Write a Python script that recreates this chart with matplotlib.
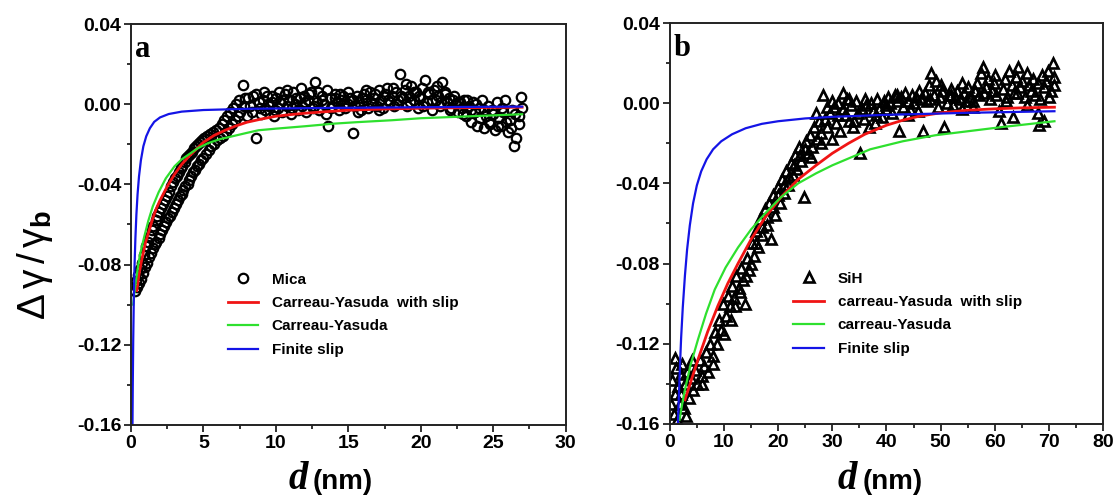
import matplotlib
matplotlib.use('Agg')
import matplotlib.pyplot as plt
from matplotlib.ticker import MultipleLocator

plt.rcParams['font.family'] = ['Liberation Sans', 'DejaVu Sans']
plt.rcParams['mathtext.fontset'] = 'custom'
plt.rcParams['mathtext.rm'] = 'Liberation Sans'
plt.rcParams['mathtext.it'] = 'Liberation Sans:italic'
plt.rcParams['mathtext.bf'] = 'Liberation Sans:bold'

# ---- panel a : mica surface ----
mica_d = [0.30, 0.35, 0.42, 0.50, 0.55, 0.62, 0.70, 0.75, 0.82, 0.90,
          0.95, 1.02, 1.10, 1.15, 1.22, 1.30, 1.35, 1.42, 1.50, 1.55,
          1.62, 1.70, 1.75, 1.82, 1.90, 1.95, 2.02, 2.10, 2.15, 2.22,
          2.30, 2.35, 2.42, 2.50, 2.55, 2.62, 2.70, 2.75, 2.82, 2.90,
          2.95, 3.02, 3.10, 3.15, 3.22, 3.30, 3.35, 3.42, 3.50, 3.55,
          3.62, 3.70, 3.75, 3.82, 3.90, 3.95, 4.02, 4.10, 4.15, 4.22,
          4.30, 4.35, 4.42, 4.50, 4.55, 4.62, 4.70, 4.75, 4.82, 4.90,
          4.95, 5.05, 5.15, 5.25, 5.35, 5.45, 5.55, 5.65, 5.75, 5.85,
          5.95, 6.05, 6.15, 6.25, 6.35, 6.45, 6.55, 6.65, 6.75, 6.85,
          6.95, 7.05, 7.15, 7.25, 7.35, 7.45, 7.55, 7.70, 7.80, 7.90,
          8.00, 8.20, 8.40, 8.60, 8.80, 9.00, 9.10, 9.25, 9.40, 9.55,
          9.70, 9.85, 10.0, 10.15, 10.3, 10.45, 10.6, 10.75, 10.9, 11.05,
          11.2, 11.35, 11.5, 11.65, 11.8, 11.95, 12.1, 12.25, 12.4, 12.55,
          12.7, 12.85, 13.0, 13.15, 13.3, 13.45, 13.6, 13.75, 13.9, 14.05,
          14.2, 14.35, 14.5, 14.65, 14.8, 14.95, 15.1, 15.3, 15.45, 15.6,
          15.75, 15.9, 16.05, 16.2, 16.35, 16.5, 16.65, 16.8, 16.95, 17.1,
          17.25, 17.4, 17.55, 17.7, 17.85, 18.0, 18.15, 18.3, 18.45, 18.6,
          18.75, 18.9, 19.05, 19.2, 19.35, 19.5, 19.65, 19.8, 19.95, 20.1,
          20.3, 20.45, 20.6, 20.75, 20.9, 21.05, 21.2, 21.35, 21.5, 21.65,
          21.8, 21.95, 22.1, 22.25, 22.4, 22.55, 22.7, 22.85, 23.0, 23.15,
          23.3, 23.45, 23.6, 23.75, 23.9, 24.05, 24.2, 24.35, 24.5, 24.65,
          24.8, 24.95, 25.1, 25.25, 25.4, 25.55, 25.7, 25.85, 26.0, 26.15,
          26.3, 26.45, 26.6, 26.75, 26.9, 27.0,
          8.10, 8.35, 8.65, 8.90, 9.15, 9.45, 9.70, 9.95, 10.2, 10.5,
          10.8, 11.1, 11.4, 11.7, 12.0, 12.3, 12.6, 12.9, 13.2, 13.5,
          13.8, 14.1, 14.4, 14.7, 15.0, 15.35, 15.65, 15.95, 16.25, 16.55,
          16.85, 17.15, 17.45, 17.75, 18.05, 18.35, 18.65, 18.95, 19.25, 19.55,
          19.85, 20.15, 20.5, 20.8, 21.1, 21.4, 21.7, 22.0, 22.3, 22.6,
          22.9, 23.2, 23.5, 23.8, 24.1, 24.4, 24.7, 25.0, 25.3, 25.6,
          25.9, 26.2, 26.5, 26.8]
mica_dg = [-0.093, -0.088, -0.091, -0.085, -0.089, -0.082, -0.087, -0.079, -0.084, -0.075,
           -0.081, -0.071, -0.079, -0.069, -0.076, -0.066, -0.074, -0.063, -0.072, -0.061,
           -0.070, -0.058, -0.069, -0.056, -0.067, -0.054, -0.065, -0.052, -0.063, -0.050,
           -0.061, -0.048, -0.059, -0.046, -0.057, -0.044, -0.056, -0.041, -0.054, -0.039,
           -0.052, -0.037, -0.050, -0.036, -0.048, -0.034, -0.046, -0.032, -0.045, -0.031,
           -0.043, -0.029, -0.041, -0.027, -0.040, -0.026, -0.038, -0.025, -0.036, -0.024,
           -0.034, -0.022, -0.033, -0.021, -0.031, -0.020, -0.030, -0.019, -0.028, -0.018,
           -0.027, -0.017, -0.025, -0.016, -0.023, -0.015, -0.021, -0.014, -0.020, -0.013,
           -0.018, -0.012, -0.017, -0.010, -0.016, -0.008, -0.014, -0.006, -0.012, -0.004,
           -0.010, -0.002, -0.008, 0.000, -0.006, 0.002, -0.004, 0.0095, -0.001, 0.003,
           -0.006, -0.001, 0.004, -0.017, 0.001, -0.005, 0.002, -0.003, 0.004, -0.001,
           0.001, -0.006, 0.003, -0.002, 0.0005, -0.004, 0.005, -0.001, 0.002, -0.005,
           0.006, 0.000, -0.003, 0.003, -0.001, 0.004, -0.004, 0.002, 0.006, -0.002,
           0.011, 0.001, -0.003, 0.004, 0.000, -0.005, -0.011, 0.003, -0.001, 0.005,
           0.001, -0.003, 0.002, 0.004, -0.002, 0.000, 0.003, -0.0145, -0.001, 0.004,
           0.001, -0.003, 0.005, 0.002, -0.002, 0.006, 0.000, 0.003, -0.001, 0.007,
           0.002, -0.002, 0.005, 0.008, 0.001, 0.004, -0.001, 0.006, 0.002, 0.015,
           0.003, 0.007, -0.001, 0.004, 0.009, 0.002, 0.006, -0.002, 0.003, 0.008,
           0.012, 0.001, 0.005, -0.003, 0.007, 0.002, 0.004, -0.001, 0.011, 0.006,
           0.001, 0.003, -0.002, 0.002, 0.000, -0.004, 0.001, -0.002, 0.002, -0.006,
           -0.001, -0.009, 0.001, -0.004, -0.011, -0.002, 0.002, -0.012, -0.006, -0.001,
           -0.010, -0.003, -0.013, 0.001, -0.007, -0.011, -0.004, 0.002, -0.014, -0.008,
           -0.003, -0.021, -0.017, -0.006, 0.0035, -0.002,
           0.003, -0.004, 0.005, -0.002, 0.006, 0.000, 0.004, -0.003, 0.006, 0.002,
           0.007, -0.002, 0.003, 0.008, 0.001, 0.005, -0.001, 0.006, 0.002, 0.007,
           -0.002, 0.003, 0.005, 0.000, 0.006, 0.002, -0.004, 0.003, 0.007, 0.001,
           0.005, -0.003, 0.004, 0.002, 0.008, 0.000, 0.004, 0.010, 0.001, 0.006,
           0.004, -0.001, 0.006, 0.002, 0.009, 0.001, 0.005, -0.003, 0.004, 0.001,
           -0.005, 0.002, -0.003, 0.000, -0.007, -0.003, -0.009, -0.005, -0.011, -0.002,
           -0.009, -0.012, -0.005, -0.010]

# fitted curves, panel a
cys_a_d = [0.4, 0.55, 0.7, 0.85, 1.0, 1.25, 1.5, 1.75, 2.0, 2.5, 3.0, 3.5, 4.0, 4.5,
           5.0, 5.75, 6.5, 7.25, 8.0, 9.0, 10.0, 11.0, 12.0, 13.5, 15.0, 17.5, 20.0,
           23.5, 27.0]
cys_a_y = [-0.093, -0.085, -0.079, -0.074, -0.069, -0.063, -0.057, -0.052, -0.048,
           -0.041, -0.035, -0.030, -0.026, -0.0225, -0.019, -0.0155, -0.013, -0.0108,
           -0.009, -0.0074, -0.006, -0.0052, -0.0045, -0.0037, -0.003, -0.0024, -0.002,
           -0.0017, -0.0015]
cy_a_d = [0.15, 0.22, 0.3, 0.4, 0.5, 0.62, 0.75, 0.95, 1.2, 1.5, 1.9, 2.4, 3.0, 3.5,
          4.0, 4.6, 5.3, 6.1, 7.0, 8.0, 8.8, 10.0, 12.0, 14.0, 15.5, 18.0, 20.0, 23.5,
          27.0]
cy_a_y = [-0.100, -0.095, -0.090, -0.085, -0.080, -0.075, -0.071, -0.065, -0.058,
          -0.051, -0.044, -0.037, -0.031, -0.0275, -0.025, -0.022, -0.0195, -0.0175,
          -0.016, -0.0143, -0.013, -0.0122, -0.011, -0.0097, -0.009, -0.008, -0.007,
          -0.006, -0.005]
fs_a_d = [0.10, 0.12, 0.15, 0.19, 0.24, 0.30, 0.37, 0.45, 0.55, 0.68, 0.85, 1.05,
          1.3, 1.6, 2.0, 2.6, 3.5, 5.0, 8.0, 13.0, 20.0, 27.0]
fs_a_y = [-0.160, -0.140, -0.118, -0.098, -0.081, -0.067, -0.055, -0.045, -0.036,
          -0.028, -0.021, -0.016, -0.012, -0.0088, -0.0066, -0.0049, -0.0037, -0.0029,
          -0.0023, -0.0019, -0.0015, -0.0012]

# ---- panel b : H-terminated silicon ----
sih_d = [0.3, 0.5, 0.7, 0.9, 1.1, 1.3, 1.5, 1.8, 2.0, 2.3, 2.6, 2.9, 3.2, 3.5, 3.9,
         4.3, 4.7, 5.1, 5.5, 5.9, 6.3, 6.7, 7.1, 7.5, 7.9, 8.3, 8.7, 9.1, 9.5, 9.9,
         10.3, 10.7, 11.1, 11.5, 11.9, 12.3, 12.7, 13.1, 13.5, 13.9, 14.3, 14.7, 15.1,
         15.5, 15.9, 16.3, 16.7, 17.1, 17.5, 17.9, 18.3, 18.7, 19.1, 19.5, 19.9, 20.3,
         20.7, 21.1, 21.5, 21.9, 22.3, 22.7, 23.1, 23.5, 23.9, 24.3, 24.7, 25.1, 25.5,
         25.9, 26.3, 26.7, 27.1, 27.5, 27.9, 28.3, 28.7, 29.1, 29.5, 29.9, 30.3, 30.7,
         31.1, 31.5, 31.9, 32.3, 32.7, 33.1, 33.5, 33.9, 34.3, 34.7, 35.1, 35.5, 35.9,
         36.3, 36.7, 37.1, 37.5, 37.9, 38.3, 38.7, 39.1, 39.5, 39.9, 40.3, 40.7, 41.1,
         41.5, 41.9, 42.3, 42.7, 43.1, 43.5, 43.9, 44.3, 44.7, 45.1, 45.5, 45.9, 46.3,
         46.7, 47.1, 47.5, 47.9, 48.3, 48.7, 49.1, 49.5, 49.9, 50.3, 50.7, 51.1, 51.5,
         51.9, 52.3, 52.7, 53.1, 53.5, 53.9, 54.3, 54.7, 55.1, 55.5, 55.9, 56.3, 56.7,
         57.1, 57.5, 57.9, 58.3, 58.7, 59.1, 59.5, 59.9, 60.3, 60.7, 61.1, 61.5, 61.9,
         62.3, 62.7, 63.1, 63.5, 63.9, 64.3, 64.7, 65.1, 65.5, 65.9, 66.3, 66.7, 67.1,
         67.5, 67.9, 68.3, 68.7, 69.1, 69.5, 69.9, 70.3, 70.7, 71.0,
         1.0, 2.1, 3.0, 4.1, 6.0, 8.0, 10.0, 11.3, 12.0, 13.0, 14.0, 15.0, 16.0, 17.0,
         18.0, 19.0, 20.0, 21.0, 22.0, 23.0, 24.0, 25.0, 26.0, 27.0, 28.0, 29.0, 30.0,
         31.0, 32.0, 33.0, 34.0, 36.0, 38.0, 40.0, 42.0, 44.0, 46.0, 48.0, 50.0, 52.0,
         54.0, 56.0, 58.0, 60.0, 62.0, 63.4, 64.0, 66.0, 68.0, 68.2, 69.0, 70.0, 71.0]
sih_dg = [-0.150, -0.138, -0.155, -0.145, -0.132, -0.158, -0.141, -0.150, -0.135, -0.130,
          -0.152, -0.140, -0.134, -0.147, -0.137, -0.143, -0.133, -0.140, -0.128, -0.136,
          -0.131, -0.124, -0.134, -0.120, -0.126, -0.114, -0.120, -0.108, -0.113, -0.100,
          -0.106, -0.096, -0.101, -0.091, -0.097, -0.086, -0.092, -0.082, -0.088, -0.100,
          -0.077, -0.083, -0.070, -0.076, -0.064, -0.072, -0.058, -0.066, -0.053, -0.061,
          -0.050, -0.068, -0.046, -0.056, -0.042, -0.050, -0.038, -0.045, -0.034, -0.041,
          -0.030, -0.036, -0.026, -0.033, -0.022, -0.029, -0.047, -0.019, -0.025, -0.016,
          -0.022, -0.012, -0.018, -0.009, -0.015, 0.004, -0.008, -0.012, -0.005, -0.018,
          -0.002, -0.010, 0.000, -0.014, 0.005, -0.006, 0.002, -0.009, -0.001, -0.012,
          0.001, -0.005, -0.025, -0.003, -0.008, -0.001, -0.012, 0.000, -0.004, -0.010,
          0.002, -0.003, -0.007, 0.001, -0.003, 0.003, 0.000, -0.005, 0.004, 0.001,
          -0.014, 0.003, -0.002, 0.005, 0.001, -0.003, 0.004, 0.000, 0.003, -0.004,
          0.002, -0.014, 0.005, 0.001, 0.009, 0.015, 0.004, 0.011, -0.002, 0.003,
          0.006, -0.012, 0.000, 0.004, 0.007, -0.001, 0.003, 0.006, 0.002, -0.003,
          0.005, 0.001, 0.008, 0.003, -0.002, 0.006, 0.010, 0.004, 0.015, 0.018,
          0.008, 0.012, 0.002, 0.006, 0.010, 0.004, -0.004, -0.010, 0.007, 0.012,
          0.003, 0.016, 0.009, 0.005, 0.013, 0.018, 0.008, 0.011, 0.003, -0.001,
          0.009, 0.006, 0.012, 0.004, 0.010, 0.002, 0.014, 0.008, 0.011, 0.016,
          0.006, 0.020, 0.013,
          -0.127, -0.145, -0.156, -0.128, -0.140, -0.130, -0.115, -0.108, -0.101, -0.094,
          -0.086, -0.080, -0.070, -0.062, -0.057, -0.052, -0.046, -0.041, -0.037, -0.031,
          -0.026, -0.023, -0.027, -0.005, -0.020, -0.002, 0.001, -0.006, -0.003, 0.002,
          -0.009, 0.002, -0.006, -0.001, 0.004, -0.006, 0.006, 0.002, 0.009, 0.004,
          0.010, 0.001, 0.005, 0.014, 0.001, -0.007, 0.005, 0.015, -0.005, -0.011,
          -0.009, 0.003, 0.009]

# fitted curves, panel b
cys_b_d = [2.8, 4.0, 5.2, 7.0, 8.9, 10.7, 12.6, 15.0, 17.6, 20.5, 23.7, 27.0, 30.0,
           33.0, 36.0, 40.0, 43.0, 46.0, 50.0, 55.0, 60.0, 65.0, 71.0]
cys_b_y = [-0.148, -0.138, -0.128, -0.114, -0.101, -0.090, -0.080, -0.068, -0.057,
           -0.047, -0.038, -0.031, -0.025, -0.020, -0.0155, -0.011, -0.0085, -0.0065,
           -0.0048, -0.0035, -0.0028, -0.0023, -0.002]
cy_b_d = [1.8, 2.3, 2.8, 3.8, 5.2, 6.7, 8.3, 10.3, 12.6, 15.0, 17.6, 20.5, 23.7, 27.0,
          30.0, 33.5, 37.0, 40.0, 43.0, 46.0, 49.0, 55.0, 61.0, 66.0, 71.0]
cy_b_y = [-0.158, -0.150, -0.143, -0.131, -0.118, -0.105, -0.093, -0.082, -0.072,
          -0.063, -0.055, -0.047, -0.040, -0.035, -0.031, -0.027, -0.023, -0.021,
          -0.019, -0.0175, -0.016, -0.014, -0.012, -0.0105, -0.009]
fs_b_d = [1.5, 1.7, 1.9, 2.1, 2.4, 2.8, 3.2, 3.7, 4.3, 5.0, 5.8, 6.8, 8.0, 9.5, 11.5,
          14.0, 17.0, 20.0, 25.0, 30.0, 40.0, 55.0, 71.0]
fs_b_y = [-0.160, -0.145, -0.130, -0.117, -0.102, -0.086, -0.073, -0.061, -0.050,
          -0.041, -0.034, -0.028, -0.023, -0.019, -0.0155, -0.0125, -0.0103, -0.009,
          -0.0076, -0.0068, -0.0058, -0.0048, -0.004]

RED = '#f01414'
GREEN = '#2ee02e'
BLUE = '#1414e6'

fig = plt.figure(figsize=(11.2, 5.01), dpi=100)
ax_a = fig.add_axes([0.117, 0.152, 0.388, 0.800])
ax_b = fig.add_axes([0.598, 0.154, 0.387, 0.800])


def style_axes(ax, xmax, xmajor):
    ax.set_xlim(0, xmax)
    ax.set_ylim(-0.16, 0.04)
    ax.xaxis.set_major_locator(MultipleLocator(xmajor))
    ax.xaxis.set_minor_locator(MultipleLocator(xmajor / 2))
    ax.yaxis.set_major_locator(MultipleLocator(0.04))
    ax.yaxis.set_minor_locator(MultipleLocator(0.02))
    ax.yaxis.set_major_formatter(plt.FuncFormatter(lambda v, p: '%.2f' % v))
    ax.tick_params(which='both', direction='out', top=False, right=False,
                   width=1.3, color='#222222')
    ax.tick_params(which='major', length=5, labelsize=14, pad=2)
    ax.tick_params(which='minor', length=3)
    for lab in ax.get_xticklabels() + ax.get_yticklabels():
        lab.set_fontweight('bold')
    for sp in ax.spines.values():
        sp.set_linewidth(1.4)
        sp.set_color('#222222')


legend_kw = dict(loc='upper left', frameon=False, borderpad=0, borderaxespad=0,
                 handlelength=2.0, handletextpad=0.9, labelspacing=0.62,
                 prop={'weight': 'bold', 'size': 11})

# panel a
ax_a.plot(mica_d, mica_dg, 'o', ms=6.8, mfc='none', mec='black', mew=1.6, label='Mica')
ax_a.plot(cys_a_d, cys_a_y, color=RED, lw=2.0, label='Carreau-Yasuda  with slip')
ax_a.plot(cy_a_d, cy_a_y, color=GREEN, lw=1.6, label='Carreau-Yasuda')
ax_a.plot(fs_a_d, fs_a_y, color=BLUE, lw=1.6, label='Finite slip')
style_axes(ax_a, 30, 5)
ax_a.legend(bbox_to_anchor=(0.222, 0.380), **legend_kw)
ax_a.text(0.008, 0.972, 'a', transform=ax_a.transAxes, ha='left', va='top',
          fontsize=22, fontweight='bold', family='Liberation Serif')

# panel b
ax_b.plot(sih_d, sih_dg, '^', ms=7.5, mfc='none', mec='black', mew=1.9, label='SiH')
ax_b.plot(cys_b_d, cys_b_y, color=RED, lw=2.0, label='carreau-Yasuda  with slip')
ax_b.plot(cy_b_d, cy_b_y, color=GREEN, lw=1.6, label='carreau-Yasuda')
ax_b.plot(fs_b_d, fs_b_y, color=BLUE, lw=1.6, label='Finite slip')
style_axes(ax_b, 80, 10)
ax_b.legend(bbox_to_anchor=(0.285, 0.380), **legend_kw)
ax_b.text(0.008, 0.972, 'b', transform=ax_b.transAxes, ha='left', va='top',
          fontsize=22, fontweight='bold', family='Liberation Serif')

# y label
fig.text(0.031, 0.47, r'$\mathregular{Δ\,γ\,/\,γ}_{\mathbf{b}}$', rotation=90,
         ha='center', va='center', fontsize=28)

# x labels: italic serif "d" plus bold "(nm)"
for xd, xn in ((0.275, 0.2795), (0.765, 0.7705)):
    fig.text(xd, 0.024, 'd', ha='right', va='baseline', fontsize=28,
             fontweight='bold', fontstyle='italic', family='Liberation Serif')
    fig.text(xn, 0.024, '(nm)', ha='left', va='baseline', fontsize=20,
             fontweight='bold')

fig.savefig('out.png', dpi=100)
